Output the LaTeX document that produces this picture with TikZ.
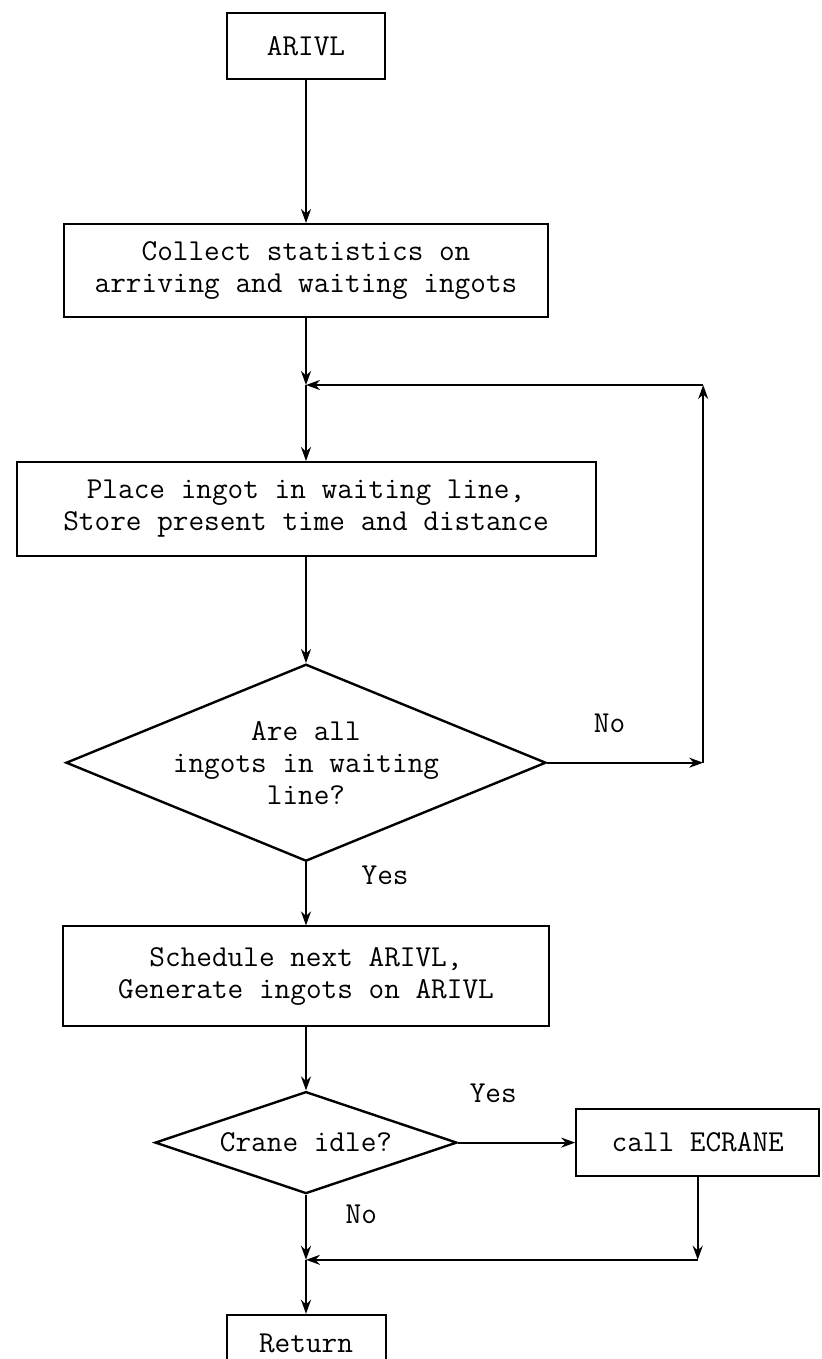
\documentclass[tikz,border=0pt]{standalone}
\usepackage{fontspec}
\usepackage{tikz}
\usetikzlibrary{arrows.meta,positioning,shapes.geometric}

\newcommand{\typefont}{\ttfamily\fontsize{15.2}{16}\selectfont}

\begin{document}
\begin{tikzpicture}[
  x=0.5pt, y=-0.5pt,
  box/.style = {draw, line width=1pt, align=center, font=\typefont},
  decision/.style = {draw, diamond, line width=1.2pt, aspect=2.45, inner sep=-3pt, align=center, font=\typefont},
  lbl/.style = {font=\typefont},
  arr/.style = {-{Stealth[length=7pt,width=5pt]}, line width=1pt}
]
\useasboundingbox (0,0) rectangle (822,1359);

\node[box, minimum width=79pt, minimum height=33pt] (arivl) at (306,46) {ARIVL};
\node[box, below=71.5pt of arivl, minimum width=242pt, minimum height=46.5pt] (collect) {Collect statistics on\\arriving and waiting ingots};
\node[box, below=71.5pt of collect, minimum width=289.5pt, minimum height=47pt] (place) {Place ingot in waiting line,\\Store present time and distance};
\node[decision, below=53pt of place, minimum width=240pt, minimum height=98.5pt] (allin) {Are all\\ingots in waiting\\line?};
\node[box, below=31.5pt of allin, minimum width=243pt, minimum height=50pt] (sched) {Schedule next ARIVL,\\Generate ingots on ARIVL};
\node[decision, below=31.5pt of sched, minimum width=151pt, minimum height=51pt] (idle) {Crane idle?};
\node[box, right=58.5pt of idle, minimum width=121.5pt, minimum height=33.5pt] (ecrane) {call ECRANE};
\node[box, below=59.5pt of idle, minimum width=79.5pt, minimum height=28.5pt] (ret) {Return};

% joints of the two loops
\coordinate[below=33.5pt of collect] (m1);
\coordinate (c2) at ([xshift=78pt]allin.east);
\coordinate (c1) at (c2 |- m1);
\coordinate[below=32.5pt of idle] (m2);
\coordinate (c3) at (ecrane.south |- m2);

\draw[arr] (arivl) -- (collect);
\draw[arr] (collect) -- (m1);
\draw[arr] (m1) -- (place);
\draw[arr] (place) -- (allin);
\draw[arr] (allin.east) -- node[lbl, above=11pt, pos=0.4] {No} (c2);
\draw[arr] (c2) -- (c1);
\draw[arr] (c1) -- (m1);
\draw[arr] (allin) -- node[lbl, right=24pt, pos=0.2] {Yes} (sched);
\draw[arr] (sched) -- (idle);
\draw[arr] (idle) -- node[lbl, above=16pt, pos=0.3] {Yes} (ecrane);
\draw[arr] (idle) -- node[lbl, right=16pt, pos=0.3] {No} (m2);
\draw[arr] (ecrane) -- (c3);
\draw[arr] (c3) -- (m2);
\draw[arr] (m2) -- (ret);
\end{tikzpicture}
\end{document}
